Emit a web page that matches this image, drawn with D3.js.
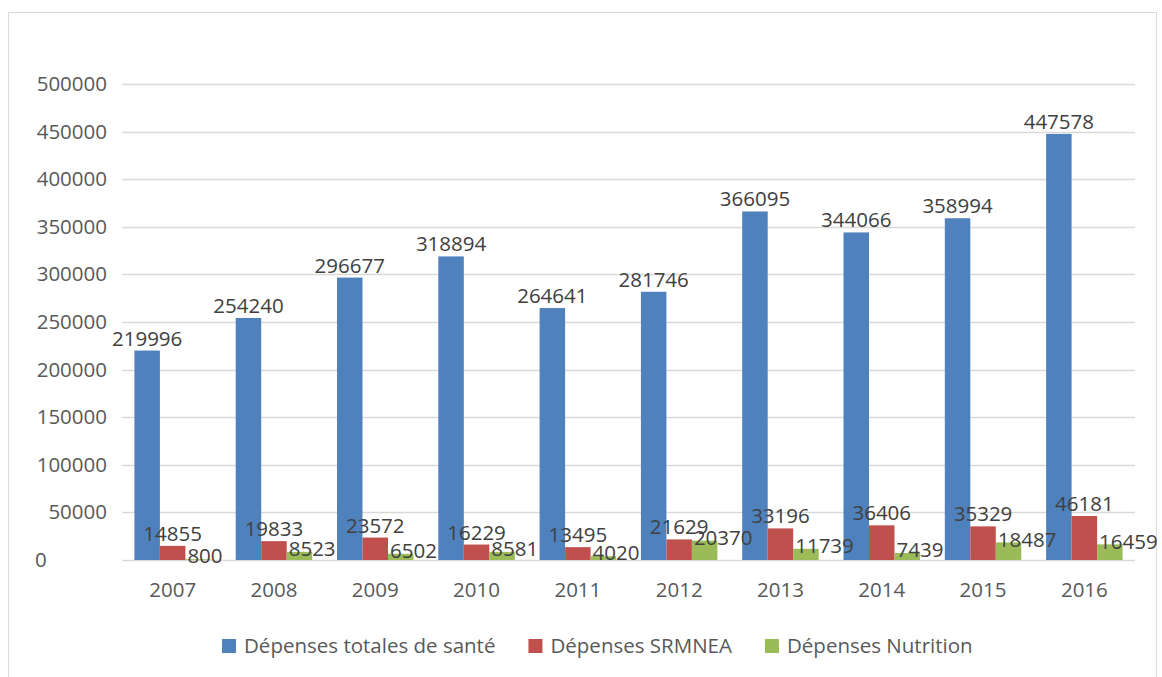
<!DOCTYPE html>
<html>
<head>
<meta charset="utf-8">
<script src="https://cdn.jsdelivr.net/npm/d3@7"></script>
<style>
  html, body { margin: 0; padding: 0; background: #fff; }
  svg { display: block; font-family: "Open Sans", "Noto Sans", sans-serif; }
</style>
</head>
<body>
<svg id="chart" width="1162" height="677"></svg>
<script>
const years = ["2007","2008","2009","2010","2011","2012","2013","2014","2015","2016"];
const seriesNames = ["Dépenses totales de santé", "Dépenses SRMNEA", "Dépenses Nutrition"];
const totalSante = [219996, 254240, 296677, 318894, 264641, 281746, 366095, 344066, 358994, 447578];
const srmnea = [14855, 19833, 23572, 16229, 13495, 21629, 33196, 36406, 35329, 46181];
const nutrition = [800, 8523, 6502, 8581, 4020, 20370, 11739, 7439, 18487, 16459];
const yTicks = [0, 50000, 100000, 150000, 200000, 250000, 300000, 350000, 400000, 450000, 500000];
const colors = ["#4f81bd", "#c0504d", "#9bbb59"];

const seriesValues = [totalSante, srmnea, nutrition];

(function () {
const FS = 20.5;
const svg = d3.select("#chart");
svg.append("rect").attr("x", 8.5).attr("y", 12.5).attr("width", 1148).attr("height", 720)
  .attr("fill", "#fff").attr("stroke", "#d9d9d9").attr("stroke-width", 1);

const pLeft = 122, pRight = 1135, pTop = 84, pBottom = 560;

const y = d3.scaleLinear().domain([0, 500000]).range([pBottom, pTop]);
const x0 = d3.scaleBand().domain(years).range([pLeft, pRight]).paddingInner(0.245).paddingOuter(0.1225);
const x1 = d3.scaleBand().domain(d3.range(seriesNames.length)).range([0, x0.bandwidth()]);

// gridlines
svg.append("g").selectAll("line").data(yTicks).join("line")
  .attr("x1", pLeft).attr("x2", pRight)
  .attr("y1", d => Math.round(y(d)) + 0.5).attr("y2", d => Math.round(y(d)) + 0.5)
  .attr("stroke", "#d9d9d9").attr("stroke-width", 1.5);

// y axis labels
const yAxis = d3.axisLeft(y).tickValues(yTicks).tickSize(0).tickPadding(0).tickFormat(d3.format("d"));
const yg = svg.append("g").attr("transform", "translate(107,0)").call(yAxis);
yg.select(".domain").remove();
yg.selectAll("text").attr("font-size", FS).attr("fill", "#595959")
  .attr("font-family", "Open Sans, sans-serif")
  .filter(d => d === 0).attr("text-anchor", "start").attr("x", -72);

// x axis labels
const xAxis = d3.axisBottom(x0).tickSize(0).tickPadding(0);
const xg = svg.append("g").attr("transform", `translate(0,${pBottom + 22})`).call(xAxis);
xg.select(".domain").remove();
xg.selectAll("text").attr("font-size", FS).attr("fill", "#595959")
  .attr("font-family", "Open Sans, sans-serif").attr("dy", "0.71em");

// bars
const data = [];
years.forEach((yr, i) => seriesValues.forEach((vals, s) => data.push({ yr, s, v: vals[i] })));

svg.append("g").selectAll("rect").data(data).join("rect")
  .attr("x", d => x0(d.yr) + x1(d.s))
  .attr("y", d => y(d.v))
  .attr("width", x1.bandwidth())
  .attr("height", d => y(0) - y(d.v))
  .attr("fill", d => colors[d.s]);

// data labels
svg.append("g").selectAll("text").data(data).join("text")
  .attr("x", d => d.s === 2 ? x0(d.yr) + x1(d.s) + 2 : x0(d.yr) + x1(d.s) + x1.bandwidth() / 2)
  .attr("y", d => d.s === 2 ? y(d.v) - 3 : y(d.v) - 5)
  .attr("dy", d => d.s === 2 ? "0.35em" : 0)
  .attr("text-anchor", d => d.s === 2 ? "start" : "middle")
  .attr("font-size", FS).attr("fill", "#404040")
  .text(d => d.v);

// legend
const lg = svg.append("g");
let lx = 222;
seriesNames.forEach((name, i) => {
  lg.append("rect").attr("x", lx).attr("y", 639).attr("width", 14).attr("height", 14).attr("fill", colors[i]);
  const t = lg.append("text").attr("x", lx + 22).attr("y", 646).attr("dy", "0.35em")
    .attr("font-size", FS).attr("fill", "#595959").text(name);
  lx += 22 + t.node().getComputedTextLength() + 33;
});
})();
</script>
</body>
</html>
